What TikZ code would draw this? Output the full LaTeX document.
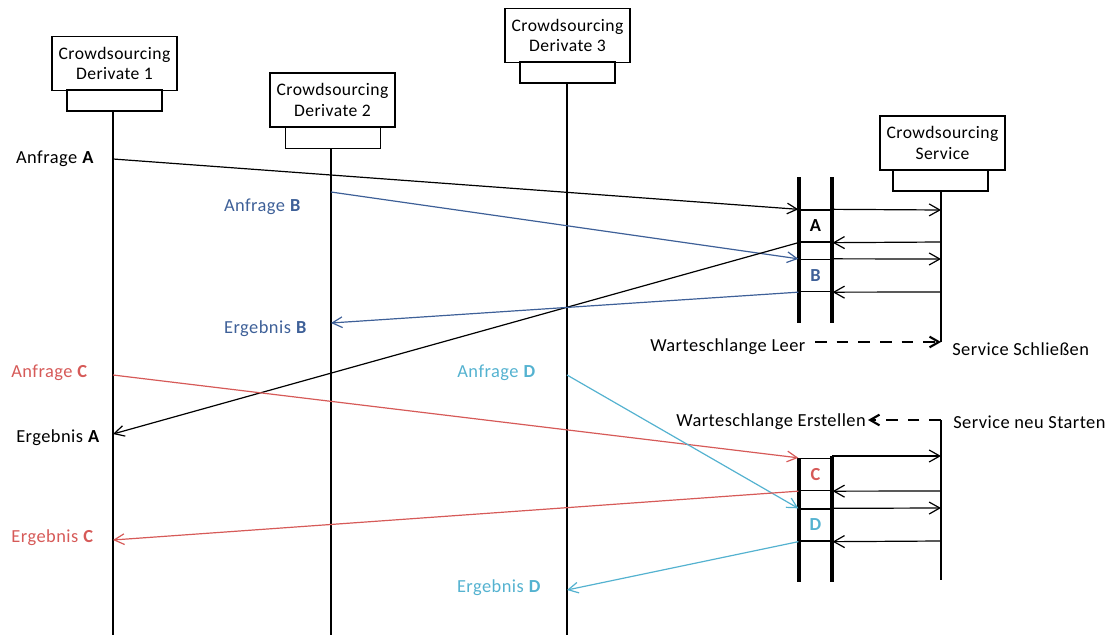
\documentclass[tikz,border=0pt]{standalone}
\usepackage{fontspec}
\setmainfont{Carlito}[LetterSpace=2.5]
\usetikzlibrary{arrows.meta}
\definecolor{reqblue}{RGB}{62,96,152}
\definecolor{reqred}{RGB}{214,90,88}
\definecolor{reqcyan}{RGB}{84,178,208}
\begin{document}
\begin{tikzpicture}[x=0.75pt,y=-0.75pt,
  font=\fontsize{13.8}{16}\selectfont,
  head/.style={draw, line width=0.9pt, fill=white, minimum width=93.75pt,
    minimum height=40.5pt, inner sep=0pt, align=center,
    font=\fontsize{13.2}{15.5}\selectfont},
  foot/.style={draw, line width=0.9pt, minimum width=71.25pt,
    minimum height=15.75pt, inner sep=0pt},
  life/.style={line width=0.8pt},
  bar/.style={line width=2.3pt},
  slot/.style={draw, line width=1pt, minimum width=24.75pt,
    minimum height=24pt, inner sep=0pt, font=\fontsize{13.8}{16}\bfseries},
  msg/.style={line width=0.9pt, -{Straight Barb[length=7.5pt,width=8pt]}},
  call/.style={line width=0.9pt, -{Straight Barb[length=8pt,width=9pt]}},
  note/.style={line width=1.6pt, dash pattern=on 8.75pt off 7.5pt,
    -{Straight Barb[length=7pt,width=8pt,line width=1.6pt]}},
  lbl/.style={inner sep=0pt}]
\useasboundingbox (0,0) rectangle (1107,635);

% participants
\node[head] (d1) at (114.5,63.5) {Crowdsourcing\\Derivate 1};
\node[foot] (d1f) at (114.5,100.5) {};
\node[head] (d2) at (332.5,100) {Crowdsourcing\\Derivate 2};
\node[foot] (d2f) at (333,138) {};
\node[head] (d3) at (567.5,35.5) {Crowdsourcing\\Derivate 3};
\node[foot] (d3f) at (567.5,72.5) {};
\node[head] (sv) at (942.5,143) {Crowdsourcing\\Service};
\node[foot] (svf) at (940.5,180.5) {};

% lifelines
\coordinate (l1end) at (113,635);
\coordinate (l2end) at (331,635);
\coordinate (l3end) at (567,635);
\coordinate (svstop) at (941,342);
\coordinate (svrestart) at (941,420);
\coordinate (svend) at (941,580);
\draw[life] (d1f.south -| l1end) -- (l1end);
\draw[life] (d2f.south -| l2end) -- (l2end);
\draw[life] (d3f.south -| l3end) -- (l3end);
\draw[life] (svf.south -| svstop) -- (svstop);
\draw[life] (svrestart) -- (svend);

% queue slots
\node[slot] (qa) at (815.5,226) {A};
\node[slot, text=reqblue] (qb) at (815.5,275.5) {B};
\node[slot, text=reqred] (qc) at (815.5,474.5) {C};
\node[slot, text=reqcyan] (qd) at (815.5,525) {D};

% queue walls
\coordinate (q1lt) at (799,177); \coordinate (q1lb) at (799,323);
\coordinate (q1rt) at (832,177); \coordinate (q1rb) at (832,323);
\coordinate (q2lt) at (799,458); \coordinate (q2lb) at (799,582);
\coordinate (q2rt) at (832,456); \coordinate (q2rb) at (832,582);
\draw[bar] (q1lt) -- (q1lb);
\draw[bar] (q1rt) -- (q1rb);
\draw[bar] (q2lt) -- (q2lb);
\draw[bar] (q2rt) -- (q2rb);

% calls between queue and service
\coordinate (sa1) at (941,210); \coordinate (sa2) at (941,242);
\coordinate (sb1) at (941,259); \coordinate (sb2) at (941,292);
\coordinate (sc1) at (941,456); \coordinate (sc2) at (941,491);
\coordinate (sd1) at (941,508); \coordinate (sd2) at (941,541);
\draw[call] (qa.north east) -- (sa1);
\draw[call] (sa2) -- (qa.south east);
\draw[call] (qb.north east) -- (sb1);
\draw[call] (sb2) -- (qb.south east);
\draw[call] (q2rt) -- (sc1);
\draw[call] (sc2) -- (qc.south east);
\draw[call] (qd.north east) -- (sd1);
\draw[call] (sd2) -- (qd.south east);

% requests and results
\coordinate (ra) at (113,159);
\coordinate (rb) at (331,192);
\coordinate (rc) at (113,375);
\coordinate (rd) at (567,375);
\coordinate (ea) at (113,434);
\coordinate (eb) at (331,323);
\coordinate (ec) at (113,540);
\coordinate (ed) at (567,590);
\draw[msg] (ra) -- (qa.north west);
\draw[msg, reqblue] (rb) -- (qb.north west);
\draw[msg] (qa.south west) -- (ea);
\draw[msg, reqblue] (qb.south west) -- (eb);
\draw[msg, reqred] (rc) -- (qc.north west);
\draw[msg, reqcyan] (rd) -- (qd.north west);
\draw[msg, reqred] (qc.south west) -- (ec);
\draw[msg, reqcyan] (qd.south west) -- (ed);

% message labels
\node[lbl] (la) at (55,159) {Anfrage \textbf{A}};
\node[lbl, text=reqblue] (lb) at (262.5,207) {Anfrage \textbf{B}};
\node[lbl, text=reqblue] (leb) at (265.5,329) {Ergebnis \textbf{B}};
\node[lbl, text=reqred] (lc) at (49.5,373) {Anfrage \textbf{C}};
\node[lbl] (lea) at (58,438) {Ergebnis \textbf{A}};
\node[lbl, text=reqcyan] (ld) at (496.5,373) {Anfrage \textbf{D}};
\node[lbl, text=reqred] (lec) at (52.5,538) {Ergebnis \textbf{C}};
\node[lbl, text=reqcyan] (led) at (499,588) {Ergebnis \textbf{D}};

% service lifecycle notes
\node[lbl, anchor=west] (empty) at (650,347) {Warteschlange Leer};
\node[lbl, anchor=west] (close) at (952,349) {Service Schließen};
\node[lbl, anchor=east] (create) at (866,422) {Warteschlange Erstellen};
\node[lbl, anchor=west] (restart) at (953,422) {Service neu Starten};
\draw[note] (815,342) -- (svstop);
\draw[note] (svrestart) -- (868,420);
\end{tikzpicture}
\end{document}
